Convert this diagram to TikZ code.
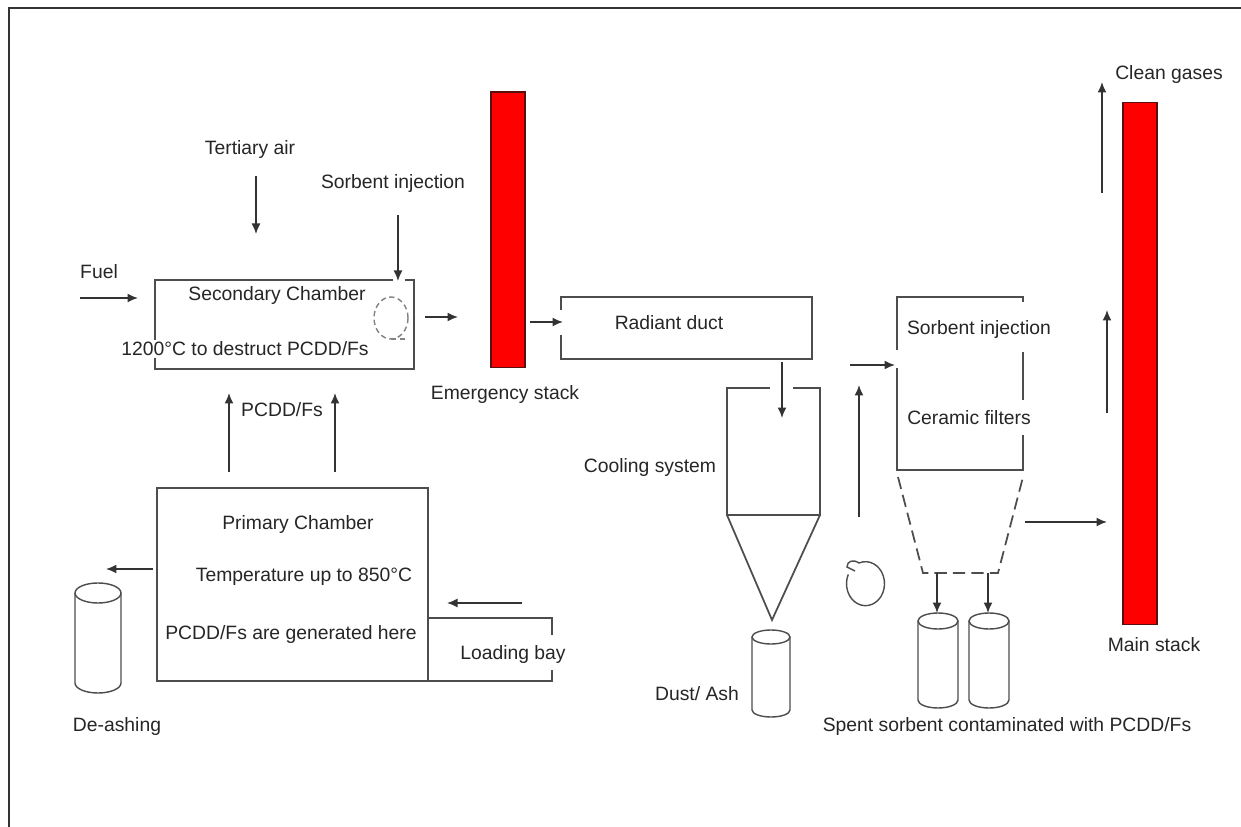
\documentclass[tikz,border=0pt]{standalone}
\usepackage{fontspec}
\setmainfont{Liberation Sans}
\usetikzlibrary{arrows.meta,calc}
\definecolor{linec}{HTML}{4D4D4D}
\definecolor{txtc}{HTML}{262626}
\definecolor{redc}{HTML}{FF0000}
\definecolor{redd}{HTML}{5A1010}
\definecolor{framec}{HTML}{333333}
\tikzset{
  >={Latex[length=2.1mm,width=1.8mm]},
  lbl/.style={font=\fontsize{11}{13}\selectfont,text=txtc,inner sep=1pt},
  wlbl/.style={lbl,fill=white},
  vessel/.style={draw=linec,line width=1pt},
  flow/.style={->,draw=black!80,line width=0.95pt},
  redstack/.style={draw=redd,fill=redc,line width=0.6pt,inner sep=0pt,minimum width=0.68cm},
  hopper/.style={vessel,dash pattern=on 7pt off 3.5pt},
  swirl/.style={draw=linec!70,line width=0.8pt,dash pattern=on 3pt off 2pt},
  frame/.style={draw=framec,line width=1.7pt},
}
\newcommand{\drum}[6]{% name, cx, top y, bottom y, x radius, y radius
  \draw[vessel,line width=0.8pt] (#2,#3) ellipse [x radius=#5, y radius=#6];
  \draw[vessel,line width=0.8pt] (#2-#5,#3) -- (#2-#5,#4) arc [start angle=180, end angle=0, x radius=#5, y radius=#6] -- (#2+#5,#3);
  \coordinate (#1) at (#2,#3);}

\begin{document}
\begin{tikzpicture}[x=0.02cm,y=-0.02cm]
  \fill[white] (0,0) rectangle (1241,827);
  \useasboundingbox (0,0) rectangle (1241,827);
  \draw[frame] (9,827) -- (9,8) -- (1241,8);

  % secondary chamber
  \coordinate (secNW) at (155,280); \coordinate (secSE) at (414,369);
  \draw[vessel] (393,280) -- (secNW) -- (secNW |- secSE) -- (secSE) -- (secSE |- secNW) -- ++(-9,0);
  \node[lbl] (tert) at (250,150) {Tertiary air};
  \node[lbl] (sorbA) at (393,184) {Sorbent injection};
  \node[lbl] (fuel) at (99,272) {Fuel};
  \node[lbl] (secA) at (277,296) {Secondary Chamber};
  \node[wlbl] (secB) at (245,349) {1200°C to destruct PCDD/Fs};
  \draw[swirl] (391,318) ellipse [x radius=17, y radius=21];
  \draw[swirl] (391,339) -- (408,339);

  % primary chamber and loading bay
  \coordinate (priNW) at (157,488); \coordinate (priSE) at (428,681);
  \draw[vessel] (priNW) rectangle (priSE);
  \draw[vessel] (428,618) -- (552,618) -- (552,635);
  \draw[vessel] (priSE) -- (552,681) -- (552,670);
  \node[lbl] (priA) at (298,525) {Primary Chamber};
  \node[lbl] (priB) at (304,577) {Temperature up to 850°C};
  \node[lbl] (priC) at (291,635) {PCDD/Fs are generated here};
  \node[lbl] (load) at (513,655) {Loading bay};
  \node[lbl] (pcdd) at (282,410) {PCDD/Fs};
  \drum{ash1}{98}{593}{683}{23}{10}
  \node[lbl] (deash) at (117,727) {De-ashing};

  % stacks
  \node[redstack,minimum height=5.52cm] (estack) at (508,230) {};
  \node[lbl] (emerg) at (505,395) {Emergency stack};
  \node[redstack,minimum height=10.46cm] (mstack) at (1140,363.5) {};
  \node[lbl] (mainl) at (1154,645) {Main stack};
  \node[lbl] (clean) at (1169,75) {Clean gases};

  % radiant duct and cooling system
  \draw[vessel] (561,310) -- (561,297) -- (812,297) -- (812,359) -- (561,359) -- (561,335);
  \node[lbl] (radA) at (669,323) {Radiant duct};
  \draw[vessel] (770,388) -- (727,388) -- (727,515) -- (820,515) -- (820,388) -- (793,388);
  \draw[vessel] (727,515) -- (772,620) -- (820,515);
  \node[lbl] (coolT) at (650,468) {Cooling system};
  \drum{ash2}{771}{637}{710}{19}{7}
  \node[lbl] (dust) at (697,694) {Dust/ Ash};

  % fan
  \draw[vessel,line width=0.8pt] (855,571) -- (847,567) .. controls (847,561) and (853,559) .. (859,563)
    arc [start angle=-110, end angle=205, x radius=19, y radius=22];

  % ceramic filters
  \draw[vessel] (897,350) -- (897,297) -- (1023,297) -- (1023,302);
  \draw[vessel] (1023,352) -- (1023,400) (1023,435) -- (1023,470) -- (897,470) -- (897,368);
  \node[lbl] (sorbB) at (979,330) {Sorbent injection};
  \node[lbl] (cera) at (969,418) {Ceramic filters};
  \draw[hopper] (898,477) -- (923,573) -- (998,573) -- (1023,477);
  \drum{bin1}{938}{621}{700}{20}{8}
  \drum{bin2}{989}{621}{700}{20}{8}
  \node[lbl] (spent) at (1007,727) {Spent sorbent contaminated with PCDD/Fs};

  % flows
  \coordinate (tA) at (256,176);  \coordinate (tB) at (256,234);
  \coordinate (sA) at (398,215);  \coordinate (sB) at (398,281);
  \coordinate (fA) at (80,298);   \coordinate (fB) at (138,298);
  \coordinate (eA) at (425,317);  \coordinate (eB) at (458,317);
  \coordinate (rA) at (530,322);  \coordinate (rB) at (563,322);
  \coordinate (cA) at (782,362);  \coordinate (cB) at (782,418);
  \coordinate (p1A) at (229,472); \coordinate (p1B) at (229,393);
  \coordinate (p2A) at (335,472); \coordinate (p2B) at (335,393);
  \coordinate (dA) at (153,569);  \coordinate (dB) at (106,569);
  \coordinate (lA) at (522,603);  \coordinate (lB) at (447,603);
  \coordinate (vA) at (859,517);  \coordinate (vB) at (859,385);
  \coordinate (hA) at (850,365);  \coordinate (hB) at (895,365);
  \coordinate (b1A) at (937,573); \coordinate (b1B) at (937,613);
  \coordinate (b2A) at (988,573); \coordinate (b2B) at (988,613);
  \coordinate (mA) at (1025,522); \coordinate (mB) at (1107,522);
  \coordinate (uA) at (1107,413); \coordinate (uB) at (1107,310);
  \coordinate (gA) at (1102,193); \coordinate (gB) at (1102,82);
  \foreach \a/\b in {tA/tB,sA/sB,fA/fB,eA/eB,rA/rB,cA/cB,p1A/p1B,p2A/p2B,dA/dB,lA/lB,vA/vB,hA/hB,b1A/b1B,b2A/b2B,mA/mB,uA/uB,gA/gB}
    \draw[flow] (\a) -- (\b);
\end{tikzpicture}
\end{document}
